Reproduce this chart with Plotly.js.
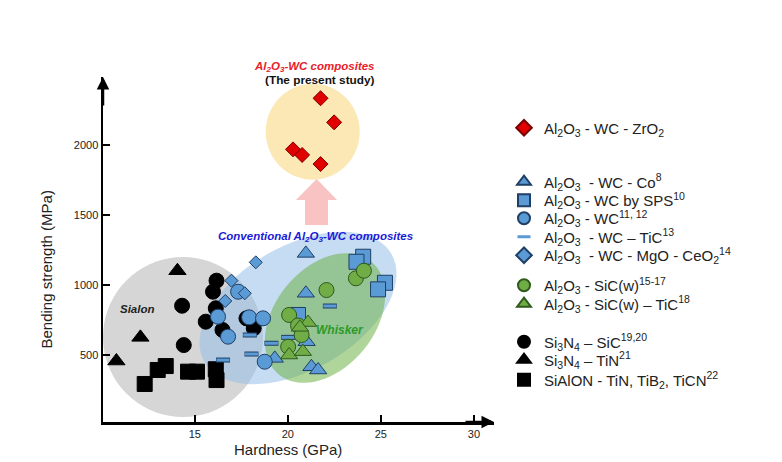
<!DOCTYPE html>
<html><head><meta charset="utf-8">
<script src="https://cdn.plot.ly/plotly-3.0.1.min.js"></script>
<style>html,body{margin:0;padding:0;background:#fff}#chart{width:782px;height:462px}</style>
</head><body><div id="chart"></div>
<script>
// ---------- data (Hardness GPa, Bending strength MPa) ----------
const zro2_x = [21.76, 22.49, 20.28, 20.77, 21.76];
const zro2_y = [2334, 2162, 1969, 1929, 1864];
const co_x = [20.97, 20.97, 21.01, 19.30, 21.27, 21.63];
const co_y = [1226, 941, 595, 476, 416, 393];
const sps_x = [24.05, 23.69, 25.22, 24.85, 20.55];
const sps_y = [1202, 1166, 1016, 969, 786];
const wc_x = [17.33, 16.25, 16.79, 17.92, 18.67, 18.76];
const wc_y = [952, 774, 631, 769, 762, 452];
const tic_x = [16.52, 18.05, 17.96, 19.12, 20.02, 22.26];
const tic_y = [464, 507, 643, 584, 626, 850];
const mgo_x = [18.28, 16.97, 17.69, 16.64];
const mgo_y = [1162, 1031, 941, 886];
const sicw_x = [23.66, 24.09, 22.08, 20.07, 20.55, 20.74, 20.02];
const sicw_y = [1048, 1102, 964, 786, 711, 643, 559];
const sicwtic_x = [21.09, 20.65, 20.07, 20.81];
const sicwtic_y = [732, 698, 500, 524];
const sinsic_x = [14.32, 14.41, 16.17, 15.98, 16.13, 15.59, 16.49, 17.78, 18.17];
const sinsic_y = [852, 571, 1031, 952, 834, 738, 679, 762, 691];
const sintin_x = [10.79, 12.08, 14.07];
const sintin_y = [457, 626, 1102];
const sialon_x = [12.31, 13.01, 13.44, 14.64, 15.12, 16.13, 16.17];
const sialon_y = [293, 393, 421, 381, 381, 398, 321];

const xTicks = [15, 20, 25, 30];
const yTicks = [500, 1000, 1500, 2000];

const names = [
  'Al<sub>2</sub>O<sub>3</sub> - WC - ZrO<sub>2</sub>',
  'Al<sub>2</sub>O<sub>3</sub>&nbsp;&nbsp;- WC - Co<sup>8</sup>',
  'Al<sub>2</sub>O<sub>3</sub> - WC by SPS<sup>10</sup>',
  'Al<sub>2</sub>O<sub>3</sub> - WC<sup>11, 12</sup>',
  'Al<sub>2</sub>O<sub>3</sub>&nbsp;&nbsp;- WC \u2013 TiC<sup>13</sup>',
  'Al<sub>2</sub>O<sub>3</sub>&nbsp;&nbsp;- WC - MgO - CeO<sub>2</sub><sup>14</sup>',
  'Al<sub>2</sub>O<sub>3</sub> - SiC(w)<sup>15-17</sup>',
  'Al<sub>2</sub>O<sub>3</sub> - SiC(w) \u2013 TiC<sup>18</sup>',
  'Si<sub>3</sub>N<sub>4</sub> \u2013 SiC<sup>19,20</sup>',
  'Si<sub>3</sub>N<sub>4</sub> \u2013 TiN<sup>21</sup>',
  'SiAlON - TiN, TiB<sub>2</sub>, TiCN<sup>22</sup>'
];

// ---------- layout geometry ----------
const W = 782, H = 462;
const PL = 103, PR = 494, PT = 77, PB = 422;
const XR = [10.07, 31.08], YR = [21.4, 2486];
const SX = (PR - PL) / (XR[1] - XR[0]);   // px per GPa
const SY = (PB - PT) / (YR[1] - YR[0]);   // px per MPa
const px2x = p => XR[0] + (p - PL) / SX;
const py2y = p => YR[0] + (PB - p) / SY;
const pxp = p => (p - PL) / (PR - PL);
const pyp = p => (PB - p) / (PB - PT);

const FONT = 'Liberation Sans, Arial, Helvetica, sans-serif';
const BLUE = '#5b9bd5', BLUE_L = '#1f3f66';
const GREEN = '#70ad47', GREEN_L = '#2f5a1c';
const RED = '#e00000', RED_L = '#7a0000';

function ellipsePath(cpx, cpy, a, b, deg) {
  const th = deg * Math.PI / 180;
  let d = '';
  for (let i = 0; i <= 72; i++) {
    const t = i / 72 * 2 * Math.PI;
    const dx = a * Math.cos(t) * Math.cos(th) - b * Math.sin(t) * Math.sin(th);
    const dy = a * Math.cos(t) * Math.sin(th) + b * Math.sin(t) * Math.cos(th);
    d += (i ? 'L' : 'M') + px2x(cpx + dx).toFixed(4) + ',' + py2y(cpy - dy).toFixed(2);
  }
  return d + 'Z';
}
function polyPath(pts) {
  return pts.map((p, i) => (i ? 'L' : 'M') + px2x(p[0]).toFixed(4) + ',' + py2y(p[1]).toFixed(2)).join('') + 'Z';
}

const shapes = [
  {type:'path', path: ellipsePath(183, 337, 80, 80, 0), fillcolor:'#d6d6d6', line:{width:0}, layer:'below'},
  {type:'path', path: ellipsePath(298, 308, 108, 62, 30), fillcolor:'rgba(150,192,232,0.55)', line:{width:0}, layer:'below'},
  {type:'path', path: ellipsePath(325, 318, 73, 50, 51), fillcolor:'rgba(112,178,72,0.55)', line:{width:0}, layer:'below'},
  {type:'path', path: ellipsePath(312.7, 131.7, 47, 48, 0), fillcolor:'#fce8b4', line:{width:0}, layer:'below'},
  {type:'path', path: polyPath([[316.7,179],[337,200],[328,200],[328,225],[305,225],[305,200],[296,200]]),
   fillcolor:'#f9c3c3', line:{width:0}, layer:'below'}
];

function leg(k) { return k === 0 ? 'legend' : 'legend' + (k + 1); }
function mk(x, y, k, symbol, size, color, lcolor, lw, extra) {
  return Object.assign({
    type:'scatter', mode:'markers', x:x, y:y, name:names[k], legend:leg(k),
    marker:{symbol:symbol, size:size, color:color, line:{color:lcolor, width:lw}},
    hoverinfo:'skip'
  }, extra || {});
}

const traces = [
  mk(sialon_x, sialon_y, 10, 'square', 15, '#000', '#000', 1),
  mk(sintin_x, sintin_y, 9, 'triangle-up', 15, '#000', '#000', 1),
  mk(sinsic_x, sinsic_y, 8, 'circle', 15, '#000', '#000', 1),
  mk(co_x, co_y, 1, 'triangle-up', 15, BLUE, BLUE_L, 1),
  mk(sps_x, sps_y, 2, 'square', 15, BLUE, BLUE_L, 1),
  mk(wc_x, wc_y, 3, 'circle', 15, BLUE, BLUE_L, 1),
  {type:'scatter', mode:'markers', x:tic_x, y:tic_y, showlegend:false, hoverinfo:'skip',
   marker:{symbol:'line-ew', size:10, color:BLUE_L, line:{color:BLUE_L, width:5}}},
  mk(tic_x, tic_y, 4, 'line-ew', 9.3, BLUE, BLUE, 3),
  mk(mgo_x, mgo_y, 5, 'diamond', 10, BLUE, BLUE_L, 1),
  mk(sicw_x, sicw_y, 6, 'circle', 15, GREEN, GREEN_L, 1),
  mk(sicwtic_x, sicwtic_y, 7, 'triangle-up', 15, GREEN, GREEN_L, 1),
  mk(zro2_x, zro2_y, 0, 'diamond', 11.5, RED, RED_L, 1)
];

const legendRows = [128, 182, 200.5, 218.5, 237, 255.5, 285.5, 304, 342, 360, 380];
const LEG_X = 504;

function txt(x, y, text, size, color, extra) {
  return Object.assign({xref:'paper', yref:'paper', x:pxp(x), y:pyp(y), xanchor:'center', yanchor:'middle',
    showarrow:false, text:text, font:{size:size, color:color, family:FONT}}, extra || {});
}

const layout = {
  width: W, height: H,
  margin: {l: PL, r: W - PR, t: PT, b: H - PB, pad: 0},
  paper_bgcolor:'#fff', plot_bgcolor:'rgba(0,0,0,0)',
  font:{family: FONT, color:'#222'},
  showlegend: true,
  xaxis: {range: XR, tickvals: xTicks, ticktext: xTicks.map(String), ticks:'inside', ticklen:7, tickwidth:1.5,
          tickcolor:'#000', showline:true, linewidth:2.5, linecolor:'#000', showgrid:false, zeroline:false,
          tickfont:{size:11, color:'#222', family:FONT}, fixedrange:true},
  yaxis: {range: YR, tickvals: yTicks, ticktext: yTicks.map(String), ticks:'inside', ticklen:7, tickwidth:1.5,
          tickcolor:'#000', showline:true, linewidth:2.5, linecolor:'#000', showgrid:false, zeroline:false,
          tickfont:{size:11, color:'#222', family:FONT}, fixedrange:true},
  shapes: shapes,
  annotations: [
    {xref:'paper', yref:'paper', x:0, y:1, ax:0, ay:30, showarrow:true, arrowhead:2, arrowsize:1, arrowwidth:2.5, arrowcolor:'#000', text:'', standoff:0},
    {xref:'paper', yref:'paper', x:1, y:0, ax:-30, ay:0, showarrow:true, arrowhead:2, arrowsize:1, arrowwidth:2.5, arrowcolor:'#000', text:'', standoff:0},
    txt(314.5, 67, '<b><i>Al<sub>2</sub>O<sub>3</sub>-WC composites</i></b>', 11.5, '#e8202a'),
    txt(320, 80, '<b>(The present study)</b>', 11.8, '#111'),
    txt(315.5, 236.7, '<b><i>Conventional Al<sub>2</sub>O<sub>3</sub>-WC composites</i></b>', 11.5, '#1a1ad8'),
    txt(137.7, 309.3, '<b><i>Sialon</i></b>', 11.5, '#222'),
    txt(340, 330, '<b><i>Whisker</i></b>', 12, '#2a9a2a'),
    txt(288, 449, 'Hardness (GPa)', 15, '#222'),
    txt(45.5, 270, 'Bending strength (MPa)', 15, '#222', {textangle:-90})
  ]
};
names.forEach((n, k) => {
  layout[leg(k)] = {x: LEG_X / W, xref:'container', y: 1 - legendRows[k] / H, yref:'container',
    xanchor:'left', yanchor:'middle', bgcolor:'rgba(0,0,0,0)', borderwidth:0,
    font:{size:15, color:'#222', family:FONT}, itemsizing: k === 4 ? 'trace' : 'constant', itemwidth:30,
    itemclick:false, itemdoubleclick:false};
});

Plotly.newPlot('chart', traces, layout, {displayModeBar:false, staticPlot:true});
</script></body></html>
